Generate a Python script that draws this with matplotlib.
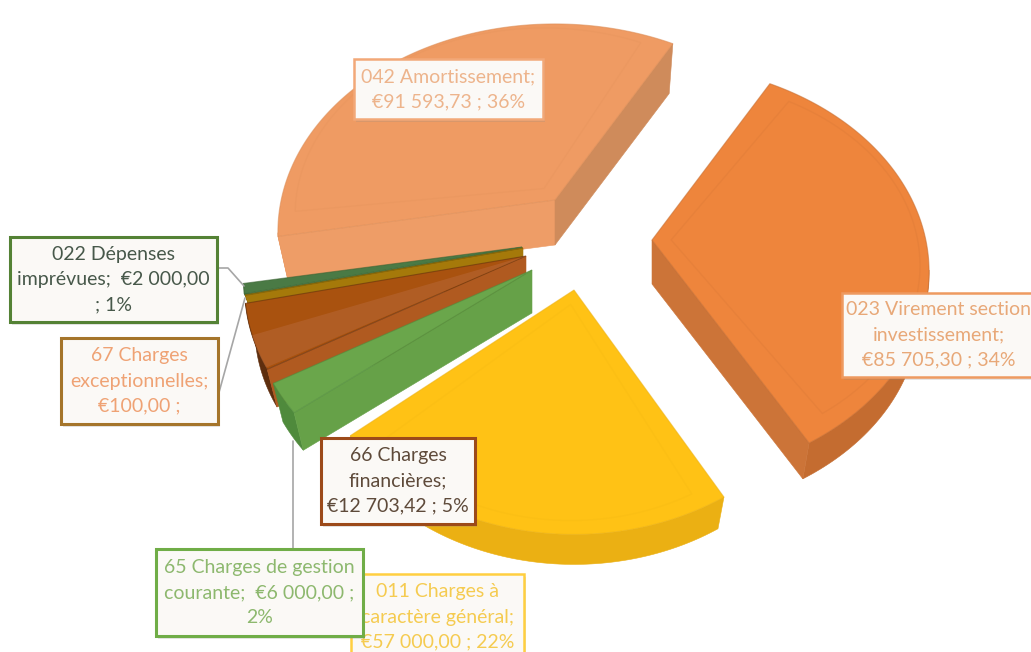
import numpy as np
import matplotlib
matplotlib.use("Agg")
import matplotlib.pyplot as plt
from matplotlib.colors import to_rgba
from matplotlib.patches import Polygon, Rectangle

# slices in clockwise order, starting at the 023 / 042 gap
codes = ["023", "011", "65", "66", "67", "022", "042"]
valeurs = [85705.30, 57000.00, 6000.00, 12703.42, 100.00, 2000.00, 91593.73]
textes = [
    "023 Virement section\ninvestissement;\n€85 705,30 ; 34%",
    "011 Charges à\ncaractère général;\n€57 000,00 ; 22%",
    "65 Charges de gestion\ncourante;  €6 000,00 ;\n2%",
    "66 Charges\nfinancières;\n€12 703,42 ; 5%",
    "67 Charges\nexceptionnelles;\n€100,00 ;",
    "022 Dépenses\nimprévues;  €2 000,00\n; 1%",
    "042 Amortissement;\n€91 593,73 ; 36%",
]

# style of each slice: top, first radial side, second radial side, rim
couleurs = {
    "023": ("#EE853C", "#CC7438", "#CC7438", "#C46C30"),
    "011": ("#FFC215", "#E8AC10", "#E8AC10", "#EBB013"),
    "65": ("#6AA64B", "#66A148", "#66A148", "#4F8A3C"),
    "66": ("#A9520F", "#B05A20", "#B05A20", "#5E2E0E"),
    "67": ("#A5790A", "#A5790A", "#A5790A", "#7A5A06"),
    "022": ("#4A7A45", "#4A7A45", "#4A7A45", "#3A6232"),
    "042": ("#EF9B63", "#EE9D67", "#CF8B5B", "#DB8C55"),
}
# where each exploded slice has its tip (picture pixels), its stretch and its height
sommets = {
    "023": (652, 240), "011": (574, 290), "65": (532, 270), "66": (526, 256),
    "67": (523, 248), "022": (522, 247), "042": (555, 200),
}
etirements = {
    "023": (0.985, 1.0), "011": (0.94, 1.02), "65": (1.0, 1.0), "66": (1.0, 1.0),
    "67": (0.99, 1.0), "022": (0.99, 1.0), "042": (0.985, 1.0),
}
hauteurs = {"023": 44, "011": 40, "65": 43, "66": 42, "67": 30, "022": 20, "042": 45}
ordre = ["042", "023", "011", "022", "67", "66", "65"]

# label boxes: left, top, right, bottom, edge, text colour, line width
boites = {
    "042": (354, 59, 543, 119, "#F2A878", "#EDB48C", 1.8),
    "023": (842, 293, 1050, 377, "#EE9A60", "#E8A878", 1.8),
    "011": (351, 574, 524, 662, "#FFCF40", "#F5CB50", 1.8),
    "65": (156, 549, 363, 636, "#70AD47", "#8DB86E", 2.2),
    "66": (321, 438, 475, 524, "#9C4A1A", "#5E4A3A", 2.2),
    "67": (61, 338, 218, 424, "#A5752B", "#EFA274", 2.2),
    "022": (10, 237, 217, 322, "#548235", "#47584A", 2.2),
}
# leader lines
traits = [
    [(217, 268), (228, 268), (244, 286)],
    [(218, 396), (245, 298)],
    [(293, 549), (293, 441)],
]

DEPART = 29.2     # clockwise degrees from the top of the first slice
SX, SY, P = 278, 203, 0.153
BAS = 0.965       # the underside looks a little smaller than the top


def projette(angles, r=1.0):
    a = np.radians(angles)
    X, Y = r * np.sin(a), -r * np.cos(a)
    w = 1 / (1 - P * Y)
    return np.column_stack((SX * X * w, SY * Y * w))


fig = plt.figure(figsize=(10.31, 6.52), dpi=100, facecolor="white")
ax = fig.add_axes([0, 0, 1, 1])
ax.set_xlim(0, 1031)
ax.set_ylim(652, 0)
ax.axis("off")

fractions = np.array(valeurs) / sum(valeurs) * 360
debuts = DEPART + np.concatenate(([0], np.cumsum(fractions)[:-1]))
parts = {c: (d, f) for c, d, f in zip(codes, debuts, fractions)}

z = 2
for code in ordre:
    debut, largeur = parts[code]
    haut, cote1, cote2, rim = couleurs[code]
    sommet = np.array(sommets[code], dtype=float)
    etire = np.array(etirements[code])
    descente = np.array((0, hauteurs[code]))
    n = max(int(largeur), 2)
    angles = np.linspace(debut, debut + largeur, n)
    arc = sommet + projette(angles) * etire
    arc_bas = sommet + projette(angles, BAS) * etire + descente
    sommet_bas = sommet + descente

    # rim first, as one piece, then the radial sides that face the viewer
    vus = [i for i in range(n - 1) if arc[i + 1][0] < arc[i][0]]
    if vus:
        i0, i1 = vus[0], vus[-1] + 1
        contour = np.vstack((arc[i0:i1 + 1], arc_bas[i0:i1 + 1][::-1]))
        ax.add_patch(Polygon(contour, closed=True, facecolor=rim, edgecolor=rim, lw=0.4, zorder=z))
    if arc[0][0] < sommet[0]:
        ax.add_patch(Polygon([sommet, arc[0], arc_bas[0], sommet_bas], closed=True,
                             facecolor=cote1, edgecolor=cote1, lw=0.4, zorder=z + 0.1))
    if sommet[0] < arc[-1][0]:
        ax.add_patch(Polygon([arc[-1], sommet, sommet_bas, arc_bas[-1]], closed=True,
                             facecolor=cote2, edgecolor=cote2, lw=0.4, zorder=z + 0.1))

    ax.add_patch(Polygon(np.vstack((sommet, arc)), closed=True, facecolor=haut,
                         edgecolor=to_rgba(rim, 0.55), lw=0.8, zorder=z + 0.5))

    if largeur > 20:
        # faint bevel on the big top faces
        milieu = debut + largeur / 2
        interne = sommet + projette(np.array([milieu]), 0.07)[0] * etire
        arc2 = interne + projette(np.linspace(debut + 3, debut + largeur - 3, n), 0.9) * etire
        ax.add_patch(Polygon(np.vstack((interne, arc2)), closed=True, fill=False,
                             edgecolor=rim, lw=1.0, alpha=0.16, zorder=z + 0.6))
    if code == "66":
        # lighter lower part of the brown top
        voile = sommet + projette(np.linspace(debut + 0.5, debut + largeur * 0.52, 8)) * etire
        ax.add_patch(Polygon(np.vstack((sommet, voile)), closed=True, facecolor="#B8693A",
                             edgecolor="none", alpha=0.5, zorder=z + 0.6))
    z += 1

for trait in traits:
    xs, ys = zip(*trait)
    ax.plot(xs, ys, color="#A6A6A6", lw=1.2, zorder=20, solid_capstyle="round")

z = 30
for code in ["042", "023", "011", "66", "67", "022", "65"]:
    g, t, d, b, bord, coul, ep = boites[code]
    texte = textes[codes.index(code)]
    ax.add_patch(Rectangle((g + 2, t + 3), d - g, b - t, facecolor="#8A8A8A", alpha=0.22, lw=0, zorder=z))
    ax.add_patch(Rectangle((g, t), d - g, b - t, facecolor="#FBF9F6", edgecolor=bord, lw=ep, zorder=z + 0.1))
    ax.text((g + min(d, 1040)) / 2 + (-2 if code == "023" else 0), (t + min(b, 660)) / 2, texte,
            ha="center", va="center", multialignment="center", color=coul,
            fontsize=14, family="Lato", linespacing=1.58, zorder=z + 0.2)
    z += 1

fig.savefig("out.png", dpi=100)
